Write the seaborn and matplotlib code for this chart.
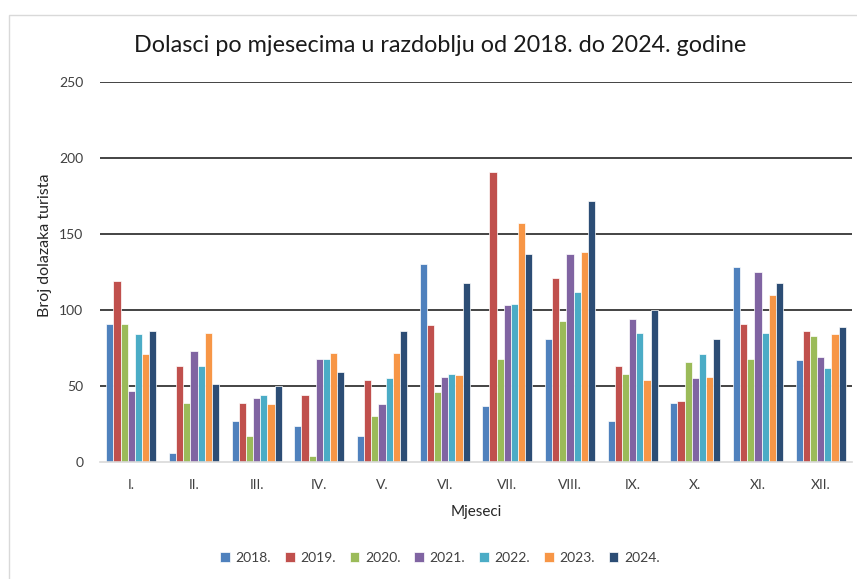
import matplotlib
matplotlib.use("Agg")
import matplotlib.pyplot as plt
import seaborn as sns
import pandas as pd
from matplotlib.patches import Rectangle

months = ["I.", "II.", "III.", "IV.", "V.", "VI.", "VII.", "VIII.", "IX.", "X.", "XI.", "XII."]
years = ["2018.", "2019.", "2020.", "2021.", "2022.", "2023.", "2024."]

v2018 = [91, 6, 27, 24, 17, 130, 37, 81, 27, 39, 128, 67]
v2019 = [119, 63, 39, 44, 54, 90, 191, 121, 63, 40, 91, 86]
v2020 = [91, 39, 17, 4, 30, 46, 68, 93, 58, 66, 68, 83]
v2021 = [47, 73, 42, 68, 38, 56, 103, 137, 94, 55, 125, 69]
v2022 = [84, 63, 44, 68, 55, 58, 104, 112, 85, 71, 85, 62]
v2023 = [71, 85, 38, 72, 72, 57, 157, 138, 54, 56, 110, 84]
v2024 = [86, 51, 50, 59, 86, 118, 137, 172, 100, 81, 118, 89]

colors = ["#4F81BD", "#C0504D", "#9BBB59", "#8064A2", "#4BACC6", "#F79646", "#2C4D75"]

series = [v2018, v2019, v2020, v2021, v2022, v2023, v2024]
rows = []
for y, vals in zip(years, series):
    for m, v in zip(months, vals):
        rows.append({"Mjeseci": m, "Godina": y, "Vrijednost": v})
df = pd.DataFrame(rows)

sns.set_theme(style="white")
plt.rcParams["font.family"] = ["Lato", "DejaVu Sans"]

fig = plt.figure(figsize=(8.57, 5.79), dpi=100)
ax = fig.add_axes([100 / 857, 1 - 462 / 579, 752 / 857, 380 / 579])

# chart border
fig.patches.append(Rectangle((9 / 857, -0.05), 1.2, 1 - 15 / 579 + 0.05, transform=fig.transFigure,
                             fill=False, edgecolor="#d9d9d9", linewidth=1.0, zorder=0))

sns.barplot(data=df, x="Mjeseci", y="Vrijednost", hue="Godina", order=months, hue_order=years,
            palette=colors, width=0.8, edgecolor="white", linewidth=0.5, ax=ax, saturation=1,
            errorbar=None)

ax.set_ylim(0, 250)
ax.set_yticks([0, 50, 100, 150, 200, 250])
ax.set_xlim(-0.5, 11.5)
for yv in [50, 100, 150, 200, 250]:
    ax.axhline(yv, color="#111111", linewidth=1.1, zorder=0.5)
ax.grid(False)
for s in ["top", "right", "left"]:
    ax.spines[s].set_visible(False)
ax.spines["bottom"].set_color("#d9d9d9")
ax.spines["bottom"].set_linewidth(1.2)
ax.tick_params(axis="both", length=0, labelsize=10, labelcolor="#404040")
ax.tick_params(axis="y", pad=12)
ax.tick_params(axis="x", pad=12)

ax.set_xlabel("Mjeseci", fontsize=11, color="#262626", labelpad=10)
ax.set_ylabel("")
fig.text(45 / 857, 1 - 245 / 579, "Broj dolazaka turista", rotation=90, ha="center", va="center",
         fontsize=11.5, color="#262626")

fig.text(440 / 857, 1 - 45 / 579, "Dolasci po mjesecima u razdoblju od 2018. do 2024. godine",
         ha="center", va="center", fontsize=16.8, color="#1a1a1a")

handles, labels = ax.get_legend_handles_labels()
ax.get_legend().remove()
fig.legend(handles, labels, loc="center", bbox_to_anchor=(440 / 857, 1 - 558 / 579), ncol=7,
           frameon=False, fontsize=10, handlelength=0.7, handleheight=0.7, handletextpad=0.4,
           columnspacing=1.0, labelcolor="#404040")

fig.savefig("out.png", dpi=100)
